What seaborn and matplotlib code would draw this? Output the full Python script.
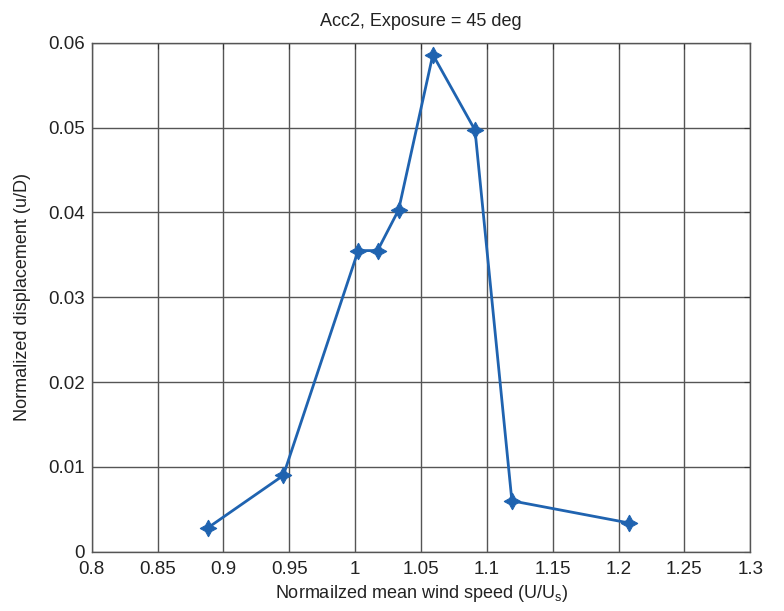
import pandas as pd
import matplotlib
matplotlib.use("Agg")
import matplotlib.pyplot as plt
import seaborn as sns
from matplotlib.ticker import FuncFormatter

# Datos
wind_speed = [0.888, 0.9455, 1.0023, 1.017, 1.033, 1.059, 1.091, 1.119, 1.2076]
displacement = [0.0028, 0.0090, 0.0355, 0.0355, 0.0403, 0.0586, 0.0497, 0.0060, 0.0034]
x_ticks = [0.8, 0.85, 0.9, 0.95, 1.0, 1.05, 1.1, 1.15, 1.2, 1.25, 1.3]
y_ticks = [0, 0.01, 0.02, 0.03, 0.04, 0.05, 0.06]

df = pd.DataFrame({"U": wind_speed, "disp": displacement})

sns.set_style("white")
plt.rcParams["font.family"] = ["Liberation Sans", "DejaVu Sans"]

fig = plt.figure(figsize=(7.84, 6.11), dpi=100)
ax = fig.add_axes([0.117, 0.097, 0.84, 0.833])

sns.lineplot(data=df, x="U", y="disp", ax=ax, sort=False, color="#1f63b0",
             linewidth=2, marker=(4, 1, 0), markersize=12,
             markeredgecolor="#1f63b0", markerfacecolor="#1f63b0")

ax.set_xlim(0.8, 1.3)
ax.set_ylim(0, 0.06)
ax.set_xticks(x_ticks)
ax.set_yticks(y_ticks)
ax.xaxis.set_major_formatter(FuncFormatter(lambda v, p: "%g" % round(v, 3)))
ax.yaxis.set_major_formatter(FuncFormatter(lambda v, p: "%g" % round(v, 3)))
ax.grid(True, color="#555555", linewidth=1, linestyle="-")
ax.tick_params(direction="in", top=True, right=True, length=4, labelsize=13.5,
               color="#333333", labelcolor="#222222")
ax.tick_params(axis="x", pad=7)
ax.tick_params(axis="y", pad=5)
for s in ax.spines.values():
    s.set_color("#555555")
    s.set_linewidth(1)

ax.set_title("Acc2, Exposure = 45 deg", fontsize=13, color="#222222", pad=12)
ax.set_xlabel(r"Normailzed mean wind speed (U/U$_\mathregular{s}$)", fontsize=13, color="#222222", labelpad=3)
ax.set_ylabel("Normalized displacement (u/D)", fontsize=13, color="#222222", labelpad=12)

fig.savefig("out.png", dpi=100)
